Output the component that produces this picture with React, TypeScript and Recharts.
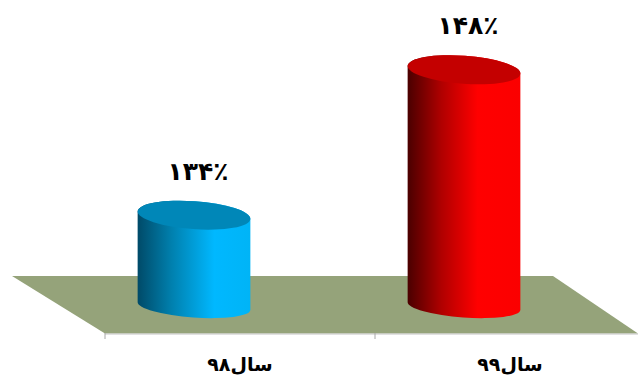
import { BarChart, Bar, XAxis, YAxis, LabelList } from "recharts";

const years = ["سال۹۸", "سال۹۹"];
const percents = [134, 148];
const bodyFills = ["url(#blueBody)", "url(#redBody)"];
const capFills = ["#0087b8", "#c40000"];

const data = years.map((year, i) => ({ year, percent: percents[i] }));

const FONT = "'DejaVu Sans', sans-serif";
// columns stand back on the floor, so they sit up and left of their band
const DEPTH_X = -46.5;
const DEPTH_Y = -28;
const TILT = 4;
const TILT_RAD = (TILT * Math.PI) / 180;

const toPersianDigits = (n: number) =>
  String(n).replace(/\d/g, (d) => "۰۱۲۳۴۵۶۷۸۹"[Number(d)]);

function Cylinder(props: any) {
  const { x, y, width, height, index } = props;
  const cx = x + width / 2 + DEPTH_X;
  const topY = y + DEPTH_Y;
  const baseY = y + height + DEPTH_Y;
  const rx = width / 2;
  const ox = rx * Math.cos(TILT_RAD);
  const oy = rx * Math.sin(TILT_RAD);
  const body = [
    `M${cx - ox} ${topY - oy}`,
    `L${cx - ox} ${baseY - oy}`,
    `A${rx} 11.5 ${TILT} 0 0 ${cx + ox} ${baseY + oy}`,
    `L${cx + ox} ${topY + oy}`,
    `A${rx} 14 ${TILT} 0 0 ${cx - ox} ${topY - oy}`,
    "Z",
  ].join(" ");
  return (
    <g>
      <path d={body} fill={bodyFills[index]} />
      <ellipse
        cx={cx}
        cy={topY}
        rx={rx}
        ry={14}
        fill={capFills[index]}
        transform={`rotate(${TILT} ${cx} ${topY})`}
      />
    </g>
  );
}

function PercentLabel(props: any) {
  const { x, y, width, value } = props;
  return (
    <text
      x={x + width / 2 + DEPTH_X + 4}
      y={y + DEPTH_Y - 44}
      textAnchor="middle"
      dominantBaseline="central"
      fontFamily={FONT}
      fontSize={25}
      fontWeight="bold"
      fill="#000"
    >
      {toPersianDigits(value)}٪
    </text>
  );
}

function YearTick(props: any) {
  const { x, y, payload } = props;
  return (
    <g>
      <line x1={x - 135} x2={x - 135} y1={y - 9} y2={y - 3} stroke="#a8a8a8" />
      <text
        x={x}
        y={y + 22}
        textAnchor="middle"
        dominantBaseline="central"
        fontFamily={FONT}
        fontSize={19}
        fontWeight="bold"
        fill="#000"
      >
        {payload.value}
      </text>
    </g>
  );
}

export default function App() {
  return (
    <div style={{ position: "absolute", left: 0, top: 0, width: 638, height: 377, overflow: "hidden" }}>
      <BarChart
        width={645}
        height={377}
        data={data}
        margin={{ top: 77, right: 0, bottom: 0, left: 105 }}
        barSize={113}
      >
        <defs>
          <linearGradient id="blueBody" x1="0" x2="1" y1="0" y2="0">
            <stop offset="0" stopColor="#004a68" />
            <stop offset="0.3" stopColor="#0080ae" />
            <stop offset="0.68" stopColor="#00b8ff" />
            <stop offset="1" stopColor="#00b4f6" />
          </linearGradient>
          <linearGradient id="redBody" x1="0" x2="1" y1="0" y2="0">
            <stop offset="0" stopColor="#4a0000" />
            <stop offset="0.3" stopColor="#b00000" />
            <stop offset="0.62" stopColor="#ff0000" />
            <stop offset="1" stopColor="#fb0000" />
          </linearGradient>
        </defs>
        {/* floor plane under the columns */}
        <polygon points="12,276 553,276 638,333.5 105,333.5" fill="#95a37a" />
        <XAxis
          dataKey="year"
          axisLine={{ stroke: "#c4c4c4" }}
          tickLine={false}
          tick={<YearTick />}
          height={43}
          interval={0}
        />
        <YAxis hide domain={[125.25, 150]} />
        <Bar dataKey="percent" shape={<Cylinder />} isAnimationActive={false}>
          <LabelList dataKey="percent" content={<PercentLabel />} />
        </Bar>
      </BarChart>
    </div>
  );
}
